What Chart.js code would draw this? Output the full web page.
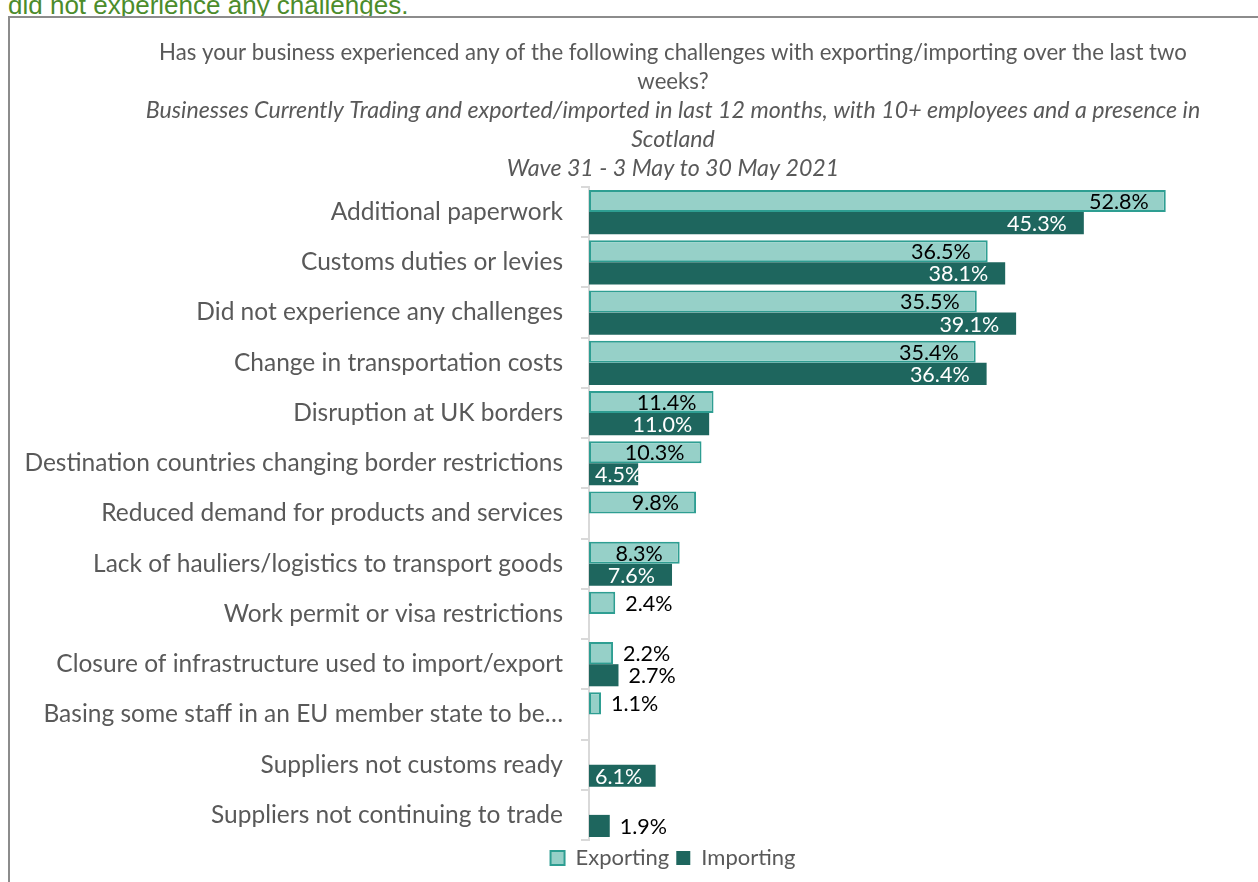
<!DOCTYPE html>
<html>
<head>
<meta charset="utf-8">
<script src="https://cdn.jsdelivr.net/npm/chart.js@4/dist/chart.umd.min.js"></script>
<style>
  html, body { margin: 0; padding: 0; background: #fff; overflow: hidden; width: 1258px; height: 882px; }
  #above { position: absolute; left: 8px; top: -8px; font: 26px/1 "Liberation Sans", Arial, sans-serif; color: #4C8C2B; white-space: nowrap; }
  #frame { position: absolute; left: 8px; top: 16px; width: 1400px; height: 1000px; border-top: 2px solid #8C8C8C; border-left: 2px solid #8C8C8C; background: #fff; }
  #chart { position: absolute; left: 0; top: 0; }
</style>
</head>
<body>
<div id="above">did not experience any challenges.</div>
<div id="frame"></div>
<canvas id="chart" width="1346" height="882"></canvas>
<script>
// --- DATA ---
const categories = [
  'Additional paperwork',
  'Customs duties or levies',
  'Did not experience any challenges',
  'Change in transportation costs',
  'Disruption at UK borders',
  'Destination countries changing border restrictions',
  'Reduced demand for products and services',
  'Lack of hauliers/logistics to transport goods',
  'Work permit or visa restrictions',
  'Closure of infrastructure used to import/export',
  'Basing some staff in an EU member state to be…',
  'Suppliers not customs ready',
  'Suppliers not continuing to trade'
];
const exporting = [52.8, 36.5, 35.5, 35.4, 11.4, 10.3, 9.8, 8.3, 2.4, 2.2, 1.1, null, null];
const importing = [45.3, 38.1, 39.1, 36.4, 11.0, 4.5, null, 7.6, null, 2.7, null, 6.1, 1.9];

const titleLines = [
  'Has your business experienced any of the following challenges with exporting/importing over the last two',
  'weeks?'
];
const subtitleLines = [
  'Businesses Currently Trading and exported/imported in last 12 months, with 10+ employees and a presence in',
  'Scotland',
  'Wave 31 - 3 May to 30 May 2021'
];

const FONT = 'Lato';
const GREY = '#595959';

// data labels: inside end for bigger bars, outside end for small ones
const valueLabels = {
  id: 'valueLabels',
  afterDatasetsDraw(chart) {
    const ctx = chart.ctx;
    ctx.save();
    ctx.font = `21.5px ${FONT}`;
    ctx.textBaseline = 'middle';
    chart.data.datasets.forEach((ds, di) => {
      const meta = chart.getDatasetMeta(di);
      meta.data.forEach((bar, i) => {
        const v = ds.data[i];
        if (v === null || v === undefined) return;
        const txt = v.toFixed(1) + '%';
        const w = ctx.measureText(txt).width;
        let x;
        let color = '#000';
        if (v >= 3) {
          x = bar.x - 17 - w;
          if (x < bar.base + 6) x = bar.base + 6;
          if (di === 1) color = '#fff';
        } else {
          x = bar.x + 10;
        }
        ctx.fillStyle = color;
        ctx.textAlign = 'left';
        ctx.fillText(txt, x, bar.y + 1);
      });
    });
    ctx.restore();
  }
};

new Chart(document.getElementById('chart'), {
  type: 'bar',
  data: {
    labels: categories,
    datasets: [
      {
        label: 'Exporting',
        data: exporting,
        backgroundColor: '#96D0C8',
        borderColor: '#2E9E92',
        borderWidth: 2,
        borderSkipped: false
      },
      {
        label: 'Importing',
        data: importing,
        backgroundColor: '#1E665E',
        borderWidth: 0
      }
    ]
  },
  options: {
    indexAxis: 'y',
    responsive: false,
    animation: false,
    categoryPercentage: 0.88,
    barPercentage: 1.0,
    layout: { padding: { left: 0, right: 0, top: 0, bottom: 3 } },
    plugins: {
      title: {
        display: true,
        text: titleLines,
        color: GREY,
        font: { family: FONT, size: 22.2, weight: 'normal', lineHeight: '29px' },
        padding: { top: 38, bottom: 0 }
      },
      subtitle: {
        display: true,
        text: subtitleLines,
        color: GREY,
        font: { family: FONT, size: 23.2, style: 'italic', lineHeight: '29px' },
        padding: { top: 0, bottom: 4 }
      },
      legend: {
        position: 'bottom',
        labels: {
          color: GREY,
          font: { family: FONT, size: 22 },
          boxWidth: 14,
          boxHeight: 14,
          padding: 7
        }
      },
      tooltip: { enabled: false }
    },
    scales: {
      x: { display: false, min: 0, max: 69.3 },
      y: {
        afterFit(scale) { scale.width = 589; },
        ticks: { color: GREY, font: { family: FONT, size: 24.5 }, padding: 18, autoSkip: false },
        grid: { offset: true, drawOnChartArea: false, tickLength: 8, color: '#D9D9D9', lineWidth: 2 },
        border: { color: '#D9D9D9', width: 2 }
      }
    }
  },
  plugins: [valueLabels]
});
</script>
</body>
</html>
